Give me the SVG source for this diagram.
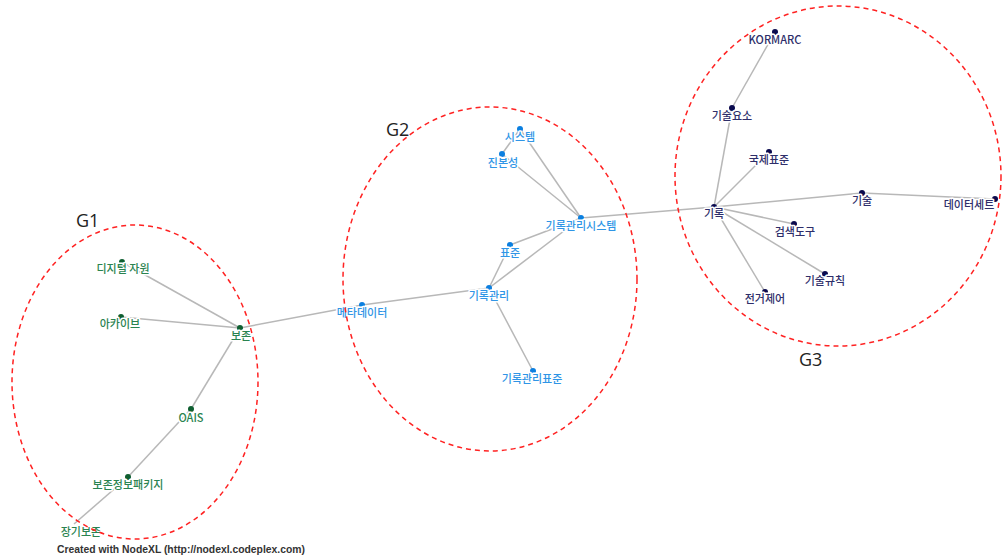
<svg xmlns="http://www.w3.org/2000/svg" width="1002" height="559" viewBox="0 0 1002 559">
<style>
.e{stroke:#b8b8b8;stroke-width:1.5;fill:none}
.lb{font-family:"Noto Sans CJK KR","Liberation Sans",sans-serif;font-size:11px;font-weight:500;text-anchor:middle;stroke:#fff;stroke-width:3;paint-order:stroke;stroke-linejoin:round}
.g1 circle{fill:#0e5e30}.g1 text{fill:#2a8350}
.g2 circle{fill:#0b7fe0}.g2 text{fill:#2f95e6}
.g3 circle{fill:#0a0a4e}.g3 text{fill:#2e2e6a}
.grp{fill:none;stroke:#f22;stroke-width:1.5;stroke-dasharray:5,4}
.gl{font-family:"Open Sans","Liberation Sans",sans-serif;font-size:18px;fill:#222}
</style>
<rect width="1002" height="559" fill="#fff"/>
<g id="connectors">
<line class="e" x1="122" y1="262" x2="240" y2="328"/>
<line class="e" x1="121" y1="317" x2="240" y2="328"/>
<line class="e" x1="240" y1="328" x2="362" y2="305"/>
<line class="e" x1="240" y1="328" x2="191" y2="409"/>
<line class="e" x1="191" y1="409" x2="128" y2="477"/>
<line class="e" x1="128" y1="477" x2="74" y2="524"/>
<line class="e" x1="362" y1="305" x2="489" y2="288"/>
<line class="e" x1="520" y1="129" x2="502" y2="154"/>
<line class="e" x1="520" y1="129" x2="581" y2="218"/>
<line class="e" x1="502" y1="154" x2="581" y2="218"/>
<line class="e" x1="581" y1="218" x2="510" y2="245"/>
<line class="e" x1="581" y1="218" x2="489" y2="288"/>
<line class="e" x1="510" y1="245" x2="489" y2="288"/>
<line class="e" x1="489" y1="288" x2="533" y2="371"/>
<line class="e" x1="581" y1="218" x2="714" y2="207"/>
<line class="e" x1="775" y1="32" x2="732" y2="108"/>
<line class="e" x1="732" y1="108" x2="714" y2="207"/>
<line class="e" x1="769" y1="152" x2="714" y2="207"/>
<line class="e" x1="714" y1="207" x2="862" y2="193"/>
<line class="e" x1="862" y1="193" x2="995" y2="199"/>
<line class="e" x1="714" y1="207" x2="794" y2="224"/>
<line class="e" x1="714" y1="207" x2="825" y2="274"/>
<line class="e" x1="714" y1="207" x2="765" y2="292"/>
</g>
<g class="g1">
<g id="n-digital"><circle cx="122" cy="262" r="3"/><text class="lb" x="123" y="273">디지털 자원</text></g>
<g id="n-archive"><circle cx="121" cy="317" r="3"/><text class="lb" x="120" y="328">아카이브</text></g>
<g id="n-bojon"><circle cx="240" cy="328" r="3"/><text class="lb" x="241" y="340">보존</text></g>
<g id="n-oais"><circle cx="191" cy="409" r="3"/><text class="lb" x="191" y="422">OAIS</text></g>
<g id="n-package"><circle cx="128" cy="477" r="3"/><text class="lb" x="128" y="489">보존정보패키지</text></g>
<g id="n-longterm"><text class="lb" x="81" y="536">장기보존</text></g>
</g>
<g class="g2">
<g id="n-meta"><circle cx="362" cy="305" r="3"/><text class="lb" x="362" y="317">메타데이터</text></g>
<g id="n-system"><circle cx="520" cy="129" r="3"/><text class="lb" x="520" y="141">시스템</text></g>
<g id="n-authentic"><circle cx="502" cy="154" r="3"/><text class="lb" x="503" y="167">진본성</text></g>
<g id="n-rms"><circle cx="581" cy="218" r="3"/><text class="lb" x="581" y="230">기록관리시스템</text></g>
<g id="n-std"><circle cx="510" cy="245" r="3"/><text class="lb" x="510" y="257">표준</text></g>
<g id="n-rm"><circle cx="489" cy="288" r="3"/><text class="lb" x="489" y="300">기록관리</text></g>
<g id="n-rmstd"><circle cx="533" cy="371" r="3"/><text class="lb" x="532" y="383">기록관리표준</text></g>
</g>
<g class="g3">
<g id="n-kormarc"><circle cx="775" cy="32" r="3"/><text class="lb" x="775" y="44">KORMARC</text></g>
<g id="n-element"><circle cx="732" cy="108" r="3"/><text class="lb" x="732" y="120">기술요소</text></g>
<g id="n-intl"><circle cx="769" cy="152" r="3"/><text class="lb" x="769" y="164">국제표준</text></g>
<g id="n-record"><circle cx="714" cy="207" r="3"/><text class="lb" x="714" y="218">기록</text></g>
<g id="n-desc"><circle cx="862" cy="193" r="3"/><text class="lb" x="862" y="205">기술</text></g>
<g id="n-dataset"><circle cx="995" cy="199" r="3"/><text class="lb" x="969" y="209">데이터세트</text></g>
<g id="n-search"><circle cx="794" cy="224" r="3"/><text class="lb" x="795" y="236">검색도구</text></g>
<g id="n-rules"><circle cx="825" cy="274" r="3"/><text class="lb" x="825" y="285">기술규칙</text></g>
<g id="n-authority"><circle cx="765" cy="292" r="3"/><text class="lb" x="765" y="303">전거제어</text></g>
</g>
<g id="groups">
<ellipse class="grp" cx="135" cy="382" rx="123" ry="157"/>
<ellipse class="grp" cx="490" cy="279" rx="147" ry="172"/>
<ellipse class="grp" cx="838" cy="176" rx="163" ry="170"/>
<text class="gl" x="76" y="227">G1</text>
<text class="gl" x="386" y="136">G2</text>
<text class="gl" x="799" y="366">G3</text>
</g>
<text x="57" y="553" font-family="Liberation Sans, Arial, sans-serif" font-size="10.5" font-weight="bold" fill="#333" textLength="248" lengthAdjust="spacingAndGlyphs">Created with NodeXL (http://nodexl.codeplex.com)</text>
</svg>
